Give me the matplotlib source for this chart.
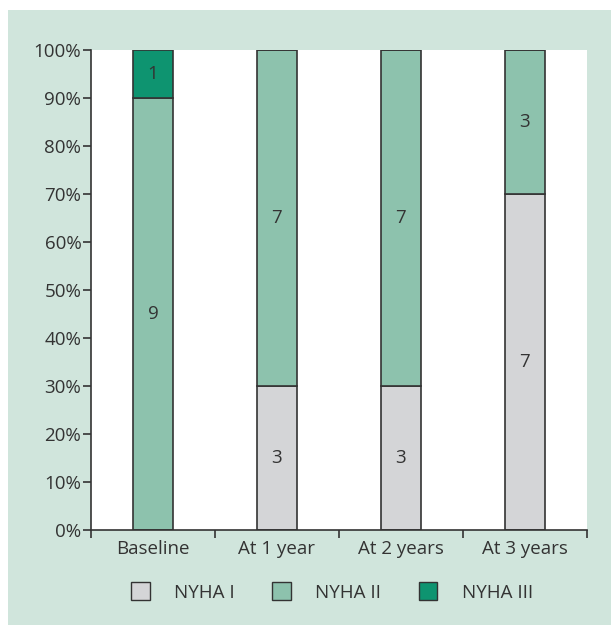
import matplotlib.pyplot as plt
import numpy as np
from matplotlib.patches import Patch, Rectangle

plt.rcParams['font.family'] = ['Open Sans', 'DejaVu Sans']

# data (patient counts out of 10)
timepoints = ['Baseline', 'At 1 year', 'At 2 years', 'At 3 years']
nyha1 = [0, 3, 3, 7]
nyha2 = [9, 7, 7, 3]
nyha3 = [1, 0, 0, 0]
class_names = ['NYHA I', 'NYHA II', 'NYHA III']
colors = ['#d4d5d7', '#8dc2ad', '#0e9470']

fig = plt.figure(figsize=(6.11, 6.25), dpi=100)
fig.patch.set_facecolor('white')
fig.patches.append(Rectangle((8 / 611, 0), 1, (625 - 10) / 625,
                             transform=fig.transFigure, facecolor='#d0e5dc',
                             edgecolor='none', zorder=-10))

ax = fig.add_axes([91 / 611, 95 / 625, 496 / 611, 480 / 625])
ax.set_facecolor('white')

series = [nyha1, nyha2, nyha3]
totals = np.array(nyha1) + np.array(nyha2) + np.array(nyha3)
x = np.arange(len(timepoints))
bottom = np.zeros(len(timepoints))
for vals, col in zip(series, colors):
    pct = np.array(vals) / totals * 100
    ax.bar(x, pct, bottom=bottom, width=0.33, color=col,
           edgecolor='#333333', linewidth=1.2, zorder=2)
    for xi, v, p, b in zip(x, vals, pct, bottom):
        if v > 0:
            ax.text(xi, b + p / 2, str(v), ha='center', va='center',
                    fontsize=13.5, color='#333333', zorder=3)
    bottom = bottom + pct

ax.set_xlim(-0.5, len(timepoints) - 0.5)
ax.set_ylim(0, 100)
ax.set_yticks(np.arange(0, 101, 10))
ax.set_yticklabels([f'{v}%' for v in range(0, 101, 10)], fontsize=13.5, color='#333333')
ax.set_xticks(x)
ax.set_xticklabels(timepoints, fontsize=13.5, color='#333333')
ax.tick_params(axis='x', length=0, pad=7)
ax.set_xticks(np.arange(-0.5, len(timepoints), 1), minor=True)
ax.tick_params(axis='x', which='minor', length=6, width=1.2, color='#333333')
ax.tick_params(axis='y', length=6, width=1.2, color='#333333', pad=1)
for s in ['top', 'right']:
    ax.spines[s].set_visible(False)
for s in ['left', 'bottom']:
    ax.spines[s].set_linewidth(1.2)
    ax.spines[s].set_color('#333333')

handles = [Patch(facecolor=c, edgecolor='#333333', linewidth=1.0) for c in colors]
fig.legend(handles, class_names, loc='center', bbox_to_anchor=(0.543, 33 / 625),
           ncol=3, frameon=False, fontsize=13.5, handlelength=1.0, handleheight=1.1,
           columnspacing=2.0, handletextpad=1.3, labelcolor='#333333')

plt.savefig('out.png', dpi=100, facecolor=fig.get_facecolor())
